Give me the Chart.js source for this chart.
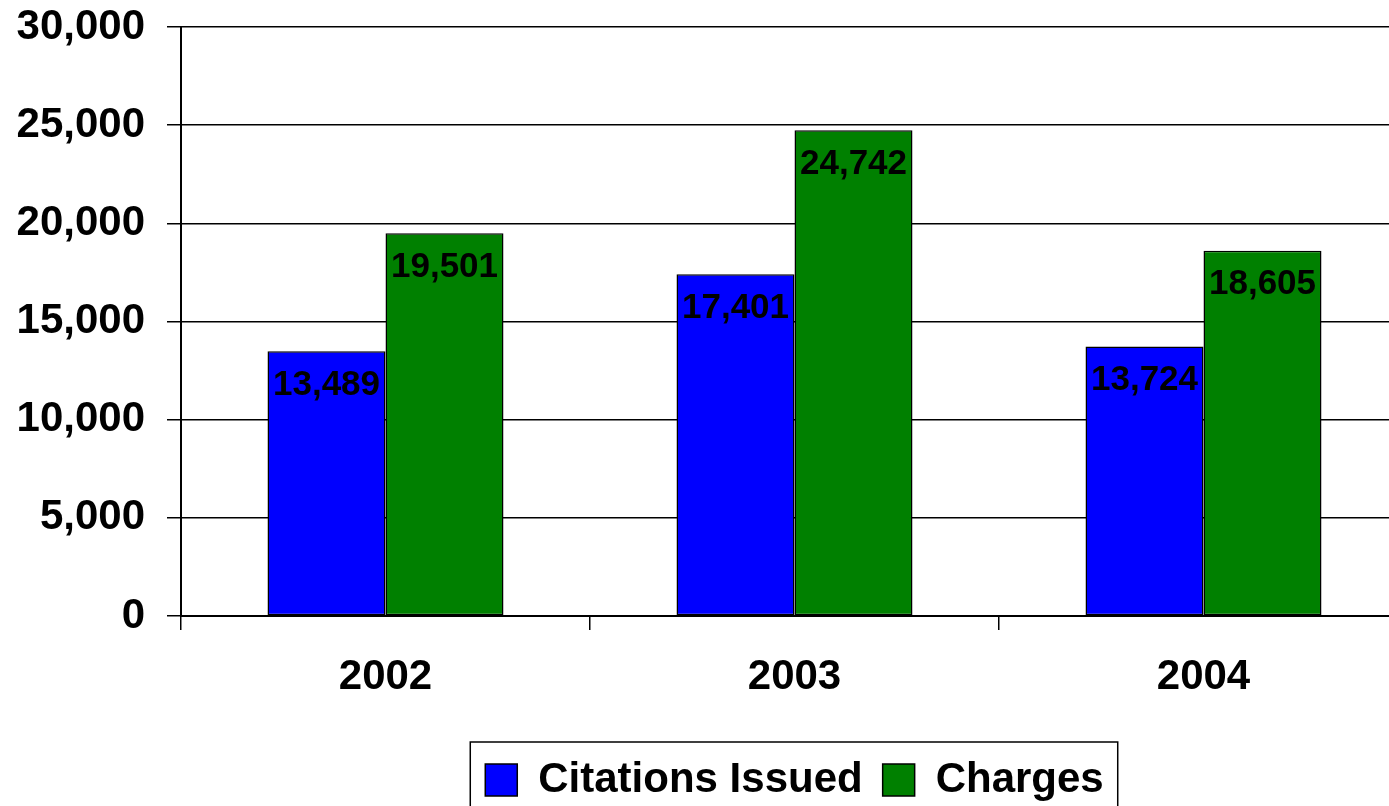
<!DOCTYPE html>
<html><head><meta charset="utf-8">
<script src="https://cdn.jsdelivr.net/npm/chart.js@4"></script>
<style>
html,body{margin:0;padding:0;overflow:hidden;background:#fff}
#wrap{position:absolute;left:0;top:0;width:1410px;height:811px}
</style>
</head><body>
<div id="wrap"><canvas id="c"></canvas></div>
<script>
const categories = ['2002', '2003', '2004'];
const citationsIssued = [13489, 17401, 13724];
const charges = [19501, 24742, 18605];
const seriesNames = ['Citations Issued', 'Charges'];
const seriesColors = ['#0000FF', '#008000'];
const yMin = 0, yMax = 30000, yStep = 5000;

const FONT = '"Liberation Sans", Arial, Helvetica, sans-serif';
Chart.defaults.color = '#000';
Chart.defaults.font.family = FONT;

const valueLabels = {
  id: 'valueLabels',
  afterDatasetsDraw(chart) {
    const ctx = chart.ctx;
    ctx.save();
    ctx.font = 'bold 35px ' + FONT;
    ctx.fillStyle = '#000';
    ctx.textAlign = 'center';
    ctx.textBaseline = 'middle';
    chart.data.datasets.forEach((ds, di) => {
      const meta = chart.getDatasetMeta(di);
      meta.data.forEach((el, i) => {
        ctx.fillText(ds.data[i].toLocaleString('en-US'), el.x, el.y + 34);
      });
    });
    ctx.restore();
  }
};

const legendBorder = {
  id: 'legendBorder',
  afterDraw(chart) {
    const hb = chart.legend && chart.legend.legendHitBoxes;
    if (!hb || !hb.length) return;
    const first = hb[0], last = hb[hb.length - 1];
    const left = first.left - 15;
    const right = last.left + last.width + 14;
    const top = first.top - 17;
    const bottom = first.top + first.height + 30;
    const ctx = chart.ctx;
    ctx.save();
    ctx.strokeStyle = '#000';
    ctx.lineWidth = 1.5;
    ctx.strokeRect(left, top, right - left, bottom - top);
    ctx.restore();
  }
};

new Chart(document.getElementById('c'), {
  type: 'bar',
  data: {
    labels: categories,
    datasets: [
      { label: seriesNames[0], data: citationsIssued, backgroundColor: seriesColors[0],
        borderColor: '#000', borderWidth: 1.5, borderSkipped: false,
        categoryPercentage: 0.577, barPercentage: 1.0 },
      { label: seriesNames[1], data: charges, backgroundColor: seriesColors[1],
        borderColor: '#000', borderWidth: 1.5, borderSkipped: false,
        categoryPercentage: 0.577, barPercentage: 1.0 }
    ]
  },
  options: {
    responsive: true,
    maintainAspectRatio: false,
    animation: false,
    layout: { padding: { top: 27, right: 2, left: 0, bottom: 0 } },
    plugins: {
      legend: {
        position: 'bottom',
        fullSize: false,
        labels: {
          boxWidth: 32, boxHeight: 32, padding: 20,
          font: { size: 42, weight: 'bold', family: FONT },
          color: '#000'
        }
      },
      tooltip: { enabled: false },
      title: { display: false }
    },
    scales: {
      x: {
        grid: { display: true, drawOnChartArea: false, drawTicks: true, tickLength: 14,
                offset: true, color: '#000', lineWidth: 1.5 },
        border: { display: true, color: '#000', width: 2 },
        ticks: { font: { size: 42, weight: 'bold', family: FONT, lineHeight: 1 }, padding: 26, color: '#000' },
        afterFit(scale) { scale.height = 123; }
      },
      y: {
        min: yMin, max: yMax,
        grid: { color: '#000', lineWidth: 1.5, tickLength: 14, drawTicks: true },
        border: { display: true, color: '#000', width: 2 },
        ticks: { stepSize: yStep, padding: 22, color: '#000',
                 font: { size: 42, weight: 'bold', family: FONT, lineHeight: 1 },
                 callback: v => v.toLocaleString('en-US') },
        afterFit(scale) { scale.width = 181; scale.paddingTop = 0; scale.paddingBottom = 0; }
      }
    }
  },
  plugins: [valueLabels, legendBorder]
});
</script>
</body></html>
